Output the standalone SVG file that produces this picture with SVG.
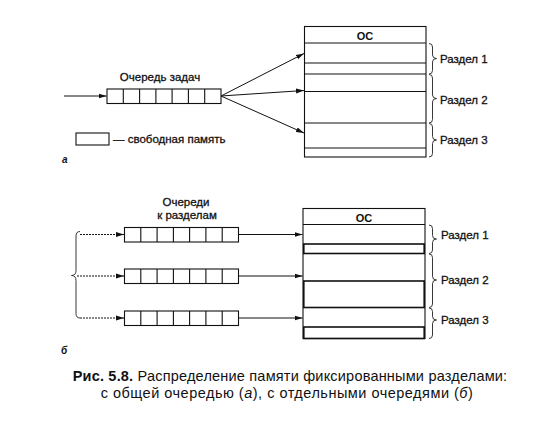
<svg xmlns="http://www.w3.org/2000/svg" width="558" height="422" viewBox="0 0 558 422">
<style>
text{font-family:"Liberation Sans",Arial,sans-serif;fill:#111}
.lbl{font-size:11.5px;stroke:#111;stroke-width:0.3}
.box{fill:#fff;stroke:#111;stroke-width:1.1}
.bold{fill:none;stroke:#111;stroke-width:1.6}
.ln{stroke:#111;stroke-width:1.1;fill:none}
.br{stroke:#222;stroke-width:0.9;fill:none}
.arr{stroke:#111;stroke-width:1;fill:none;marker-end:url(#ah)}
.darr{stroke:#111;stroke-width:1;fill:none;stroke-dasharray:2 1;marker-end:url(#ah)}
.fig{font-size:10px;font-weight:bold;font-style:italic}
.cap{font-size:14.5px}
</style>
<defs>
<marker id="ah" viewBox="0 0 8 6" refX="8" refY="3" markerWidth="8" markerHeight="6" markerUnits="userSpaceOnUse" orient="auto">
<path d="M0,0.5 L8,3 L0,5.5 Z" fill="#111"/>
</marker>
<g id="q7">
<rect class="box" x="0" y="0" width="114" height="14.5"/>
<path class="ln" d="M16.3,0V14.5M32.6,0V14.5M48.9,0V14.5M65.1,0V14.5M81.4,0V14.5M97.7,0V14.5"/>
</g>
</defs>

<!-- Part a -->
<g id="queue-a">
<text class="lbl" x="160" y="81" text-anchor="middle">Очередь задач</text>
<use href="#q7" x="107" y="89"/>
</g>
<g id="memory-a">
<rect class="box" x="304.5" y="26.5" width="121.5" height="130.5"/>
<text x="365" y="40" text-anchor="middle" font-size="11" font-weight="bold">ОС</text>
<path class="ln" d="M304.5,43H426M304.5,63H426M304.5,74H426M304.5,91.5H426M304.5,123H426M304.5,148H426"/>
</g>
<g id="partitions-a">
<path class="br" d="M429,43.5 Q432.5,43.5 432.5,47 L432.5,55 Q432.5,58.5 436.5,58.5 Q432.5,58.5 432.5,62 L432.5,70.5 Q432.5,74 429,74"/>
<path class="br" d="M429,74.5 Q432.5,74.5 432.5,78 L432.5,95 Q432.5,98.5 436.5,98.5 Q432.5,98.5 432.5,102 L432.5,119.5 Q432.5,123 429,123"/>
<path class="br" d="M429,123.5 Q432.5,123.5 432.5,127 L432.5,136.5 Q432.5,140 436.5,140 Q432.5,140 432.5,143.5 L432.5,153.5 Q432.5,157 429,157"/>
<text class="lbl" x="440" y="63">Раздел 1</text>
<text class="lbl" x="440" y="104">Раздел 2</text>
<text class="lbl" x="440" y="144">Раздел 3</text>
</g>
<g id="legend">
<rect class="box" x="76" y="133" width="33" height="12"/>
<text class="lbl" x="113" y="142.5">— свободная память</text>
</g>
<text class="fig" x="62" y="163">а</text>

<!-- Part b -->
<g id="queues-b">
<text class="lbl" x="186" y="206" text-anchor="middle">Очереди</text>
<text class="lbl" x="187" y="219" text-anchor="middle">к разделам</text>
<use href="#q7" x="124.5" y="227.5"/>
<use href="#q7" x="124.5" y="269"/>
<use href="#q7" x="124.5" y="311"/>
<path class="br" d="M80,231.5 Q76,231.5 76,236 L76,270.5 Q76,275.5 71.5,275.5 Q76,275.5 76,280.5 L76,313.5 Q76,318 80,318"/>
</g>
<g id="memory-b">
<rect class="box" x="303" y="208.5" width="122" height="130"/>
<text x="364" y="221.5" text-anchor="middle" font-size="11" font-weight="bold">ОС</text>
<path class="ln" d="M303,224.5H425"/>
<rect class="bold" x="303.8" y="244" width="120.4" height="9.5"/>
<rect class="bold" x="303.8" y="281" width="120.4" height="26.5"/>
<rect class="bold" x="303.8" y="327" width="120.4" height="11.5"/>
</g>
<g id="partitions-b">
<path class="br" d="M429,225 Q432.5,225 432.5,228.5 L432.5,235.5 Q432.5,239 436.5,239 Q432.5,239 432.5,242.5 L432.5,250 Q432.5,253.5 429,253.5"/>
<path class="br" d="M429,254 Q432.5,254 432.5,257.5 L432.5,276.5 Q432.5,280 436.5,280 Q432.5,280 432.5,283.5 L432.5,304 Q432.5,307.5 429,307.5"/>
<path class="br" d="M429,308 Q432.5,308 432.5,311.5 L432.5,316.5 Q432.5,320 436.5,320 Q432.5,320 432.5,323.5 L432.5,335 Q432.5,338.5 429,338.5"/>
<text class="lbl" x="441" y="238.5">Раздел 1</text>
<text class="lbl" x="441" y="283.5">Раздел 2</text>
<text class="lbl" x="441" y="323.5">Раздел 3</text>
</g>
<text class="fig" x="61" y="354">б</text>

<g id="connectors">
<path class="arr" d="M64,96H106.5"/>
<path class="arr" d="M221,96L304,53.5"/>
<path class="arr" d="M221,96L304,90.5"/>
<path class="arr" d="M221,96L304,133"/>
<path class="darr" d="M80,234.5H124"/>
<path class="darr" d="M77,276H124"/>
<path class="darr" d="M80,318H124"/>
<path class="arr" d="M239,234.5H302.5"/>
<path class="arr" d="M239,276H302.5"/>
<path class="arr" d="M239,318H302.5"/>
</g>

<g id="caption">
<text class="cap" x="290" y="381" text-anchor="middle" letter-spacing="0.2"><tspan font-weight="bold">Рис. 5.8.</tspan> Распределение памяти фиксированными разделами:</text>
<text class="cap" x="287" y="398" text-anchor="middle" letter-spacing="0.5">с общей очередью (<tspan font-style="italic">а</tspan>), с отдельными очередями (<tspan font-style="italic">б</tspan>)</text>
</g>
</svg>
